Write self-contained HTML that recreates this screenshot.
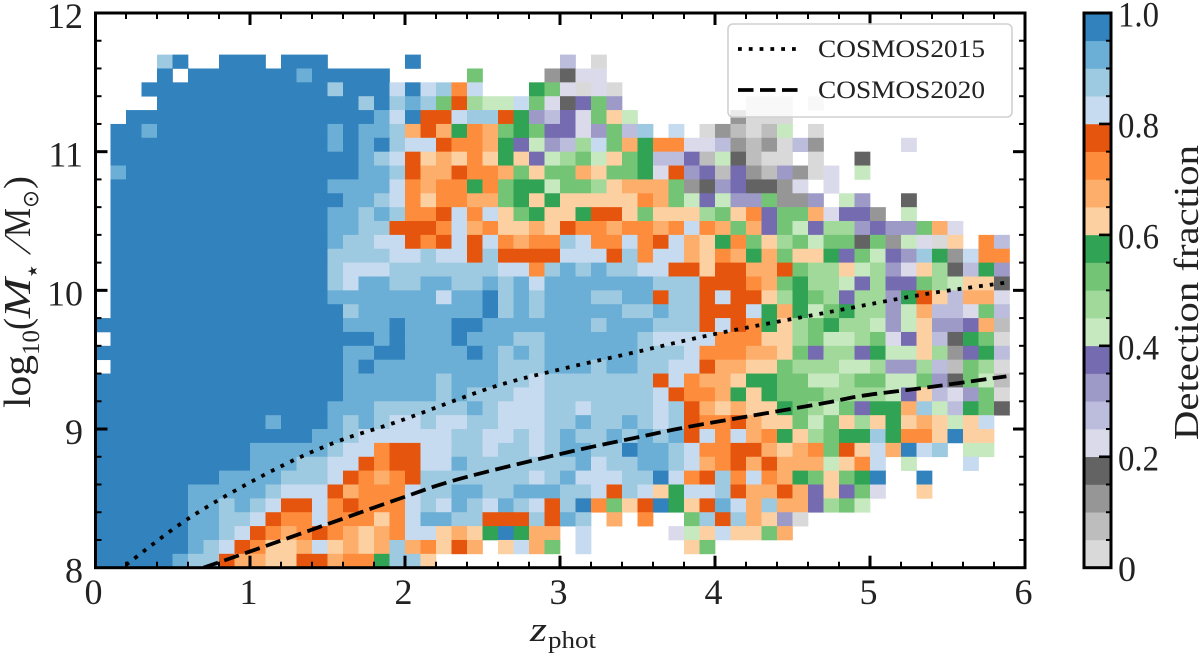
<!DOCTYPE html>
<html lang="en">
<head>
<meta charset="utf-8">
<title>Detection fraction</title>
<style>
html,body{margin:0;padding:0;background:#fff;width:1200px;height:658px;overflow:hidden}
svg{display:block}
text{font-family:"Liberation Serif","DejaVu Serif",serif;fill:#222}
</style>
</head>
<body>
<svg id="chart" xmlns="http://www.w3.org/2000/svg" width="1200" height="658" viewBox="0 0 1200 658">
  <defs><clipPath id="plot-clip"><rect x="95" y="13" width="930" height="554.7"/></clipPath></defs>
  <g id="cells"></g>
  <g id="curves" clip-path="url(#plot-clip)"></g>
  <g id="axes"></g>
  <rect x="95.5" y="13" width="929.5" height="554.7" fill="none" stroke="#000" stroke-width="3"/>

  <g>
    <rect x="728" y="24" width="284" height="93" rx="5" fill="rgba(255,255,255,0.8)" stroke="#d0d0d0" stroke-width="1.6"/>
    <line x1="738" y1="49" x2="798" y2="49" stroke="#000" stroke-width="3.8" stroke-dasharray="3.8 7"/>
    <text x="818" y="57" font-size="25" textLength="167" lengthAdjust="spacingAndGlyphs">COSMOS2015</text>
    <line x1="738" y1="90" x2="798" y2="90" stroke="#000" stroke-width="3.8" stroke-dasharray="15.5 6.5"/>
    <text x="818" y="98" font-size="25" textLength="167" lengthAdjust="spacingAndGlyphs">COSMOS2020</text>
  </g>

  <g>
    <text x="530" y="641" font-size="35" font-style="italic" textLength="17" lengthAdjust="spacingAndGlyphs">z</text>
    <text x="548" y="648" font-size="24" textLength="48" lengthAdjust="spacingAndGlyphs">phot</text>
  </g>

  <g transform="translate(30,408) rotate(-90)">
    <text x="0" y="0" font-size="38" textLength="53" lengthAdjust="spacingAndGlyphs">log</text>
    <text x="53" y="9" font-size="25" textLength="25" lengthAdjust="spacingAndGlyphs">10</text>
    <text x="78" y="0" font-size="38" textLength="12" lengthAdjust="spacingAndGlyphs">(</text>
    <text x="90" y="0" font-size="38" font-style="italic" textLength="40" lengthAdjust="spacingAndGlyphs">M</text>
    <text x="131" y="7" font-size="13" style="font-family:'DejaVu Sans',sans-serif">★</text>
    <text transform="translate(153,0) skewX(-22)" x="0" y="0" font-size="38">/</text>
    <text x="171" y="0" font-size="38" textLength="29" lengthAdjust="spacingAndGlyphs">M</text>
    <text x="200" y="8" font-size="22" style="font-family:'DejaVu Sans',sans-serif" textLength="18" lengthAdjust="spacingAndGlyphs">⊙</text>
    <text x="219" y="0" font-size="38" textLength="13" lengthAdjust="spacingAndGlyphs">)</text>
  </g>

  <g id="colorbar"></g>
  <text transform="translate(1198,440) rotate(-90)" font-size="35" textLength="295" lengthAdjust="spacingAndGlyphs">Detection fraction</text>
</svg>

<script>
const _ = null;
// Detection fraction (percent) per mass bin, top row (11.9-12.0) first; columns are z bins of 0.1.
const fractionRows = [
[],
[],
[],
[_,_,_,_,88,98,_,_,98,98,98,_,98,98,98,_,_,_,_,_,98,_,_,_,_,_,_,_,_,_,28,_,3],
[_,_,_,_,98,_,98,98,98,98,98,98,98,93,98,98,98,98,98,_,_,_,_,_,53,_,_,_,_,13,18,23,23],
[_,_,_,98,98,98,98,98,98,98,98,98,98,98,98,88,98,98,98,83,98,83,88,73,83,_,_,_,58,53,23,3,23,3],
[_,_,_,_,98,98,98,98,98,98,98,98,98,98,98,98,98,88,98,88,93,88,53,78,48,43,43,83,53,23,18,38,53,33,_,_,_,_,_,_,_,_,3,3,3,_,3],
[_,_,98,98,98,98,98,98,98,98,98,98,98,98,98,98,98,98,93,83,98,78,78,83,88,88,78,58,33,28,38,23,53,63,43,_,_,_,_,_,_,13,3,3,3],
[_,98,98,93,98,98,98,98,98,98,98,98,98,98,98,93,98,93,93,88,68,78,68,58,73,68,53,58,53,38,38,23,33,53,28,88,_,83,_,3,13,8,3,8,43,_,3],
[_,98,98,98,98,98,98,98,98,98,98,98,98,98,98,93,98,93,98,88,83,83,78,73,73,68,58,38,43,33,28,48,83,53,68,58,73,73,23,23,28,13,8,13,3,28,13,_,_,_,_,_,23],
[_,98,98,98,98,98,98,98,98,98,98,98,98,98,98,98,98,93,88,83,78,63,68,63,73,63,58,63,38,43,48,53,43,63,53,58,28,28,38,8,43,18,8,3,3,_,3,_,_,18],
[_,93,98,98,98,98,98,98,98,98,98,98,98,98,98,98,98,93,93,88,78,68,68,78,73,73,68,53,63,53,53,68,63,53,53,58,23,78,33,38,8,38,13,8,33,13,3,23,_,43],
[_,98,98,98,98,98,98,98,98,98,98,98,98,98,98,93,93,93,93,83,73,68,73,73,58,73,53,58,58,43,53,53,48,63,68,68,68,53,13,18,33,38,18,18,13,23,_,23],
[_,98,98,98,98,98,98,98,98,98,98,98,98,98,98,98,93,93,88,83,73,63,73,73,68,68,53,58,63,58,63,63,63,63,63,73,68,53,43,38,43,33,33,53,13,13,33,_,43,33,_,_,18],
[_,98,98,98,98,98,98,98,98,98,98,98,98,98,98,93,93,88,93,88,73,73,78,83,73,83,63,53,58,63,63,58,78,78,63,53,63,63,63,48,53,63,73,38,53,53,68,23,38,38,13,_,43],
[_,98,98,98,98,98,98,98,98,98,98,98,98,98,98,93,93,88,88,78,78,78,73,83,68,73,63,63,68,63,78,73,73,68,73,73,68,73,83,73,68,53,68,38,53,43,38,48,48,33,38,33,33,53,68,23],
[_,98,98,98,98,98,98,98,98,98,98,98,98,98,98,93,88,88,83,83,78,73,78,83,78,83,73,68,73,73,88,83,73,73,83,73,78,83,68,63,58,73,53,63,48,53,43,53,53,18,53,13,43,23,3,63,_,73,28],
[_,98,98,98,98,98,98,98,98,98,98,98,98,98,98,88,88,88,88,83,83,88,83,83,78,88,78,78,78,78,83,83,83,78,88,73,83,83,68,63,73,68,58,68,53,63,63,58,38,53,43,38,33,88,58,13,83,73,73],
[_,98,98,98,98,98,98,98,98,98,98,98,98,98,98,88,83,83,83,88,88,88,88,88,88,88,83,83,73,88,93,88,93,88,88,83,83,78,78,63,78,78,68,68,78,53,48,48,63,43,48,33,23,63,48,18,28,58,33],
[_,98,98,98,98,98,98,98,98,98,98,98,98,98,98,88,83,93,93,88,88,93,93,88,88,93,88,93,83,93,93,93,93,93,93,93,88,88,88,78,78,78,73,68,53,58,48,48,43,38,48,38,38,53,48,43,63,63,18],
[_,98,98,98,98,98,98,98,98,98,98,98,98,98,98,93,93,93,93,93,93,93,83,93,93,98,88,93,88,93,93,93,88,88,93,93,78,88,88,78,83,78,78,63,48,58,53,48,38,48,48,33,58,78,63,28,68,68,23],
[_,98,98,98,98,98,98,98,98,98,98,98,98,98,98,98,88,93,93,93,93,93,93,93,93,98,88,93,88,93,93,93,93,93,88,88,93,88,88,78,78,78,83,58,68,58,43,53,58,48,48,33,43,68,28,28,23,53,28],
[98,98,98,98,98,98,98,98,98,98,98,98,98,98,98,98,93,93,93,98,93,93,93,98,98,93,93,93,93,93,93,93,88,93,93,93,88,88,88,78,83,78,73,58,63,48,53,58,48,48,43,33,43,63,33,33,38,68,8],
[_,98,98,98,98,98,98,98,98,98,98,98,98,98,98,98,98,98,93,98,93,93,93,98,93,93,93,88,88,93,93,93,93,93,93,88,83,83,83,83,73,73,73,63,63,48,53,43,43,48,53,23,38,63,28,18,58,53,3],
[98,98,98,98,98,98,98,98,98,98,98,98,98,98,98,98,93,93,98,98,93,93,93,93,98,93,88,93,88,93,93,93,93,93,93,88,88,88,83,73,73,73,68,68,63,53,38,48,48,38,58,43,43,63,48,13,38,58,28],
[_,98,98,98,98,98,98,98,98,98,98,98,98,98,98,98,93,98,93,93,93,93,93,93,93,93,88,88,88,93,93,93,88,93,93,88,88,83,83,78,68,68,63,63,53,48,48,48,43,43,48,33,33,48,28,8,53,48,3],
[98,98,98,98,98,98,98,98,98,98,98,98,98,98,98,98,93,93,93,93,93,93,88,93,93,93,88,88,83,88,88,88,88,88,88,88,78,83,73,68,68,63,58,58,53,53,43,43,48,53,53,43,43,53,33,18,53,43,8],
[98,98,98,98,98,98,98,98,98,98,98,98,98,98,98,98,93,93,93,93,93,93,88,93,88,88,88,83,83,88,88,88,88,88,88,88,83,78,73,73,68,58,63,58,53,53,53,48,48,48,48,43,38,63,28,23,33,53,3],
[98,98,98,98,98,98,98,98,98,98,98,98,98,98,98,93,93,93,88,88,88,88,88,88,93,88,83,83,83,88,88,83,88,88,88,88,83,88,78,68,63,68,63,63,58,53,48,43,53,38,58,58,68,88,43,28,58,53,18],
[98,98,98,98,98,98,98,98,98,98,98,93,98,98,98,93,88,93,88,83,83,88,83,83,88,88,83,83,83,88,88,93,88,88,93,88,83,88,78,73,73,78,68,63,63,53,43,53,63,48,63,58,63,68,63,43,63,83],
[98,98,98,98,98,98,98,98,98,98,98,98,98,98,93,93,88,83,83,83,83,83,83,88,88,83,83,88,83,88,93,88,88,93,88,93,88,93,78,83,73,83,68,73,58,63,48,53,58,58,88,58,73,73,63,98,63,63],
[98,98,98,98,98,98,98,98,98,98,93,93,93,93,93,88,83,83,73,78,78,83,83,88,88,83,88,88,83,88,93,93,88,88,98,93,93,88,83,73,73,78,78,68,63,68,73,53,78,63,83,68,98,83,88,_,43,43],
[98,98,98,98,98,98,98,98,98,98,93,93,93,88,88,83,83,78,73,78,78,83,83,93,88,88,88,88,88,88,88,93,83,88,88,93,93,88,83,68,73,78,68,78,68,68,68,43,63,73,83,_,43,_,_,_,83],
[98,98,98,98,98,98,98,98,93,93,93,93,88,88,88,83,78,73,68,73,78,88,88,88,88,88,88,88,83,88,93,83,83,83,88,88,98,83,73,78,88,73,83,73,68,58,53,63,53,58,98,_,_,98],
[98,98,98,98,98,98,93,93,93,93,93,88,83,83,83,78,68,73,73,73,83,88,88,93,93,88,88,93,93,93,88,88,83,78,88,83,63,58,83,83,88,78,68,68,78,68,38,63,38,53,23,_,_,63],
[98,98,98,98,98,98,93,93,88,93,88,83,78,78,83,73,78,73,73,73,83,88,83,93,88,83,93,88,83,78,88,98,73,53,63,78,98,58,63,78,93,83,68,88,68,68,38,48,53,43],
[98,98,98,98,98,98,93,93,88,88,83,78,73,73,83,73,73,73,63,73,83,93,93,88,88,78,78,78,88,78,93,88,_,68,_,73,_,_,53,88,78,88,68,63,33,3],
[98,98,98,98,98,98,93,93,88,83,78,73,68,73,78,73,68,63,68,73,83,83,63,68,63,58,98,58,68,68,_,83,_,_,_,_,_,23,43,63,83,63,63,53,68],
[98,98,98,98,98,98,93,88,83,78,73,63,63,68,83,63,68,63,68,88,68,73,63,78,68,_,63,83,68,53,_,83,_,_,_,_,_,_,63,53],
[98,98,98,98,98,93,88,88,78,68,68,63,63,78,78,68,73,73,58,88,88,63]
];
const massTicks = [8, 9, 10, 11, 12];
const massMinorStep = [0.2];
const zTicks = [0, 1, 2, 3, 4, 5, 6];
const zMinorStep = [0.2];
const colorbarTicks = [0, 0.2, 0.4, 0.6, 0.8, 1.0];
const colorbarTickLabels = ['0', '0.2', '0.4', '0.6', '0.8', '1.0'];
const cosmos2015Z = [0.2, 0.61, 1.11, 1.54, 1.97, 2.56, 3.0, 3.47, 4.02, 4.72, 5.34, 5.84, 5.9];
const cosmos2015Mass = [8.02, 8.36, 8.68, 8.9, 9.06, 9.3, 9.43, 9.55, 9.69, 9.84, 9.97, 10.05, 10.06];
const cosmos2020Z = [0.7, 1.11, 1.54, 1.97, 2.35, 3.04, 3.5, 3.8, 4.31, 4.72, 4.95, 5.37, 5.88];
const cosmos2020Mass = [8.0, 8.16, 8.33, 8.5, 8.64, 8.83, 8.94, 9.01, 9.11, 9.19, 9.24, 9.3, 9.38];

const palette = ['#d9d9d9','#bdbdbd','#969696','#636363','#dadaeb','#bcbddc','#9e9ac8','#756bb1','#c7e9c0','#a1d99b','#74c476','#31a354','#fdd0a2','#fdae6b','#fd8d3c','#e6550d','#c6dbef','#9ecae1','#6baed6','#3182bd'];
const NS = 'http://www.w3.org/2000/svg';
const xScale = z => 95 + z * 155;
const yScale = m => 567.7 - (m - 8) * 138.675;
const cbarY = f => 567.7 - f * 554.7;
const colorFor = pct => palette[Math.min(19, Math.floor(pct / 5))];

function make(parent, tag, attrs) {
  const el = document.createElementNS(NS, tag);
  for (const k in attrs) el.setAttribute(k, attrs[k]);
  parent.appendChild(el);
  return el;
}

const cellsG = document.getElementById('cells');
fractionRows.forEach((row, r) => {
  const massTop = 12 - r * 0.1;
  row.forEach((pct, c) => {
    if (pct === null || pct === undefined) return;
    const z0 = c * 0.1;
    const rect = make(cellsG, 'rect', {
      x: xScale(z0), y: yScale(massTop),
      width: xScale(z0 + 0.1) - xScale(z0) + 0.35,
      height: yScale(massTop - 0.1) - yScale(massTop) + 0.35,
      fill: colorFor(pct)
    });
    
    
  });
});

const curvesG = document.getElementById('curves');
function smoothPath(pts) {
  let d = 'M' + pts[0][0] + ',' + pts[0][1];
  for (let i = 0; i < pts.length - 1; i++) {
    const p0 = pts[Math.max(0, i - 1)], p1 = pts[i], p2 = pts[i + 1], p3 = pts[Math.min(pts.length - 1, i + 2)];
    d += ' C' + (p1[0] + (p2[0] - p0[0]) / 6) + ',' + (p1[1] + (p2[1] - p0[1]) / 6) + ' ' +
         (p2[0] - (p3[0] - p1[0]) / 6) + ',' + (p2[1] - (p3[1] - p1[1]) / 6) + ' ' + p2[0] + ',' + p2[1];
  }
  return d;
}
function drawCurve(zs, ms, name, dash) {
  const p = make(curvesG, 'path', {
    d: smoothPath(zs.map((z, i) => [xScale(z), yScale(ms[i])])),
    fill: 'none', stroke: '#000', 'stroke-width': 3.8,
    'stroke-dasharray': dash
  });
  
  
}
drawCurve(cosmos2015Z, cosmos2015Mass, 'cosmos2015-curve', '3.8 7');
drawCurve(cosmos2020Z, cosmos2020Mass, 'cosmos2020-curve', '15.5 6.5');

const axesG = document.getElementById('axes');
function tick(x1, y1, x2, y2, w, name) {
  const l = make(axesG, 'line', { x1, y1, x2, y2, stroke: '#000', 'stroke-width': w });
  
  
}
function label(parent, txt, x, y, anchor, name, extra) {
  const t = make(parent, 'text', Object.assign({ x, y, 'font-size': 36, 'text-anchor': anchor }, extra || {}));
  t.textContent = txt;
  
  
}
for (let i = 0; i <= 30; i++) {
  const z = i * zMinorStep[0];
  if (i === 0 || i === 30) continue;
  const major = i % 5 === 0;
  const len = major ? 12 : 6;
  tick(xScale(z), 567.7, xScale(z), 567.7 - len, major ? 3 : 2, 'x-tick-bottom');
  tick(xScale(z), 13, xScale(z), 13 + len, major ? 3 : 2, 'x-tick-top');
}
for (let i = 1; i < 20; i++) {
  const m = 8 + i * massMinorStep[0];
  const major = i % 5 === 0;
  const len = major ? 12 : 6;
  tick(95.5, yScale(m), 95.5 + len, yScale(m), major ? 3 : 2, 'y-tick-left');
  tick(1025, yScale(m), 1025 - len, yScale(m), major ? 3 : 2, 'y-tick-right');
}
zTicks.forEach(z => label(axesG, String(z), xScale(z) - 1.5, 604, 'middle', 'x-tick-label'));
massTicks.forEach(m => label(axesG, String(m), 83, yScale(m) + 15, 'end', 'y-tick-label'));

const cbarG = document.getElementById('colorbar');
palette.forEach((col, i) => {
  const seg = make(cbarG, 'rect', {
    x: 1083.5, y: cbarY((i + 1) * 0.05), width: 28,
    height: cbarY(i * 0.05) - cbarY((i + 1) * 0.05) + 0.3, fill: col
  });
  
  
});
for (let i = 1; i < 20; i++) {
  const major = i % 4 === 0;
  const y = cbarY(i * 0.05);
  const l = make(cbarG, 'line', { x1: 1111, y1: y, x2: major ? 1099 : 1106, y2: y, stroke: '#000', 'stroke-width': major ? 2.6 : 2 });
  
  
}
const cbarFrame = make(cbarG, 'rect', { x: 1084, y: 13, width: 27, height: 554.7, fill: 'none', stroke: '#000', 'stroke-width': 3 });


colorbarTicks.forEach((f, i) => {
  const txt = colorbarTickLabels[i];
  const extra = txt.length > 1 ? { textLength: 41, lengthAdjust: 'spacingAndGlyphs' } : {};
  label(cbarG, txt, 1118, cbarY(f) + 13.5, 'start', 'colorbar-tick-label', extra);
});
</script>
</body>
</html>
